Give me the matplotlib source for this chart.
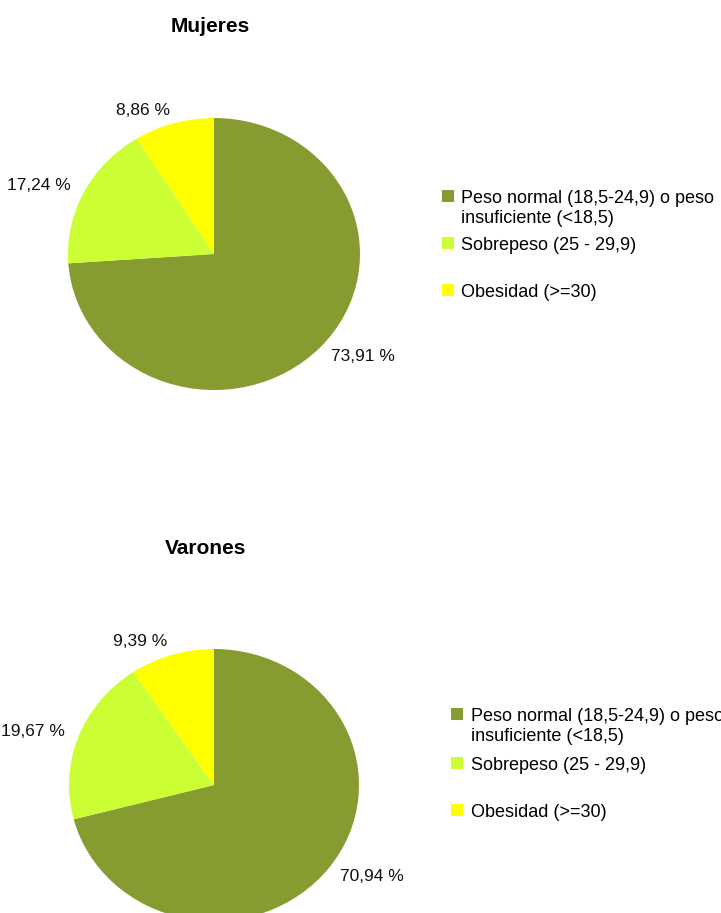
import matplotlib.pyplot as plt

plt.rcParams['font.family'] = ['Liberation Sans', 'DejaVu Sans']

categorias = ["Peso normal (18,5-24,9) o peso\ninsuficiente (<18,5)",
              "Sobrepeso (25 - 29,9)",
              "Obesidad (>=30)"]
mujeres = [73.91, 17.24, 8.86]
varones = [70.94, 19.67, 9.39]
colores = ["#879C30", "#CCFF33", "#FFFF00"]

W, H = 721, 913
fig = plt.figure(figsize=(W / 100, H / 100), dpi=100)


def px_axes(cx, cy, rx, ry):
    # axes placed so that the unit circle lands on centre (cx, cy) in pixels, y from top
    w, h = 2.5 * rx, 2.5 * ry
    return fig.add_axes([(cx - w / 2) / W, (H - cy - h / 2) / H, w / W, h / H])


def tarta(ax, valores, titulo, tx, ty, leg_x, leg_tops):
    etiquetas = [f"{v:.2f} %".replace(".", ",") for v in valores]
    wedges, textos = ax.pie(valores, labels=etiquetas, colors=colores, startangle=90,
                            counterclock=False, labeldistance=1.1,
                            wedgeprops=dict(linewidth=0),
                            textprops=dict(fontsize=12.5, color="#111111"))
    ax.set_aspect("auto")
    ax.set_xlim(-1.25, 1.25)
    ax.set_ylim(-1.25, 1.25)
    fig.text(tx / W, 1 - ty / H, titulo, ha="center", va="center",
             fontsize=15, fontweight="bold")
    # one legend per entry so the rows keep their own spacing
    for w, cat, top in zip(wedges, categorias, leg_tops):
        leg = fig.legend([w], [cat], loc="upper left",
                         bbox_to_anchor=(leg_x / W, 1 - top / H),
                         bbox_transform=fig.transFigure, frameon=False,
                         borderpad=0, borderaxespad=0, fontsize=13,
                         handlelength=0.68, handleheight=0.68, handletextpad=0.4)
        for t in leg.get_texts():
            t.set_linespacing(1.2)
        for col in leg._legend_handle_box.get_children():
            for fila in col.get_children():
                fila.align = "top"


ax1 = px_axes(214, 254, 146, 136)
tarta(ax1, mujeres, "Mujeres", 210, 26, 442, [190, 237, 284])

ax2 = px_axes(214, 785, 145, 136)
tarta(ax2, varones, "Varones", 206, 549, 451, [708, 757, 804])

fig.savefig("out.png", dpi=100)
